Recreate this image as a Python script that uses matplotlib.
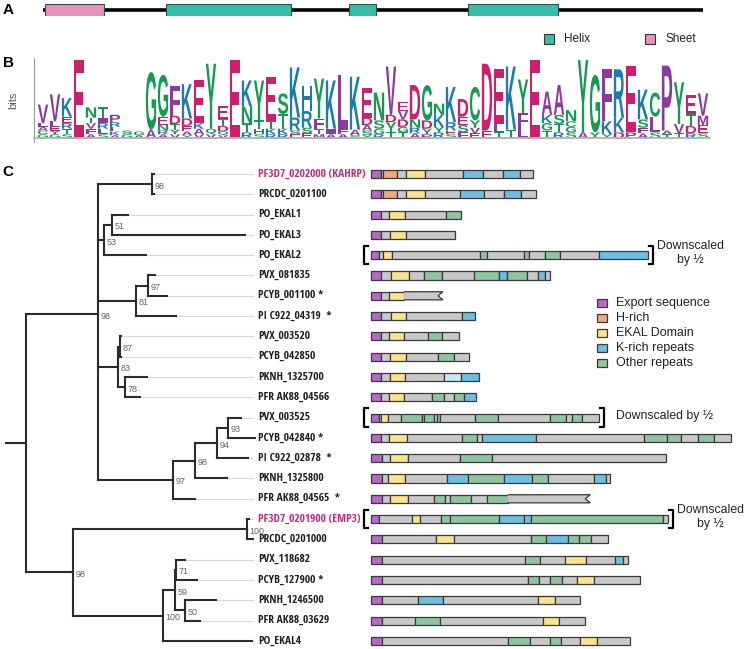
import numpy as np
import matplotlib
matplotlib.use("Agg")
import matplotlib.pyplot as plt
from matplotlib import font_manager
from matplotlib.patches import Rectangle, Polygon, PathPatch
from matplotlib.textpath import TextPath
from matplotlib.font_manager import FontProperties
from matplotlib.transforms import Affine2D

plt.rcParams["font.family"] = ["Liberation Sans", "DejaVu Sans"]

# ---------------- panel A: secondary structure (residue positions) ----------
seq_len = 56
sse_start = [1.2, 11.25, 26.5, 36.4]
sse_end = [6.1, 21.7, 28.75, 43.9]
sse_type = ["Sheet", "Helix", "Helix", "Helix"]

# ---------------- panel B: sequence logo (bottom -> top letters, bits) -------
logo_letters = [
    "GCALV", "GYELV", "STREK", "E", "AFVTN", "SLRIT", "AKLRP", "GS", "AG", "AG",
    "ARNEG", "VYTDF", "YAEDK", "VAKE", "VQY", "VQDTE", "E", "RTNK", "SHTY", "RKTE",
    "RKTS", "ESRK", "ESRH", "MTFY", "AIK", "AFL", "SAK", "YSADE", "RGSN", "TYDV",
    "TGDVE", "ARND", "PYDG", "RYKN", "SERK", "FSED", "EVYC", "ED", "TLE", "TK",
    "LFY", "E", "TGKA", "RTSA", "SGCN", "AY", "YG", "YKF", "DKR", "PE",
    "AFSK", "SLC", "TAP", "TVY", "RDTE", "SEMV",
]
logo_heights = [
    [0.2, 0.2, 0.2, 0.2, 1.0], [0.2, 0.2, 0.2, 0.3, 1.45], [0.2, 0.3, 0.3, 0.35, 1.0],
    [4.2], [0.2, 0.3, 0.3, 0.3, 0.55], [0.2, 0.3, 0.3, 0.3, 0.55],
    [0.15, 0.2, 0.25, 0.25, 0.4], [0.2, 0.2], [0.15, 0.2], [0.45, 3.1],
    [0.2, 0.2, 0.3, 0.45, 2.25], [0.2, 0.25, 0.3, 0.45, 1.6], [0.15, 0.2, 0.3, 0.4, 1.85],
    [0.2, 0.3, 0.3, 2.3], [0.2, 0.3, 3.5], [0.15, 0.2, 0.3, 0.4, 0.65], [4.2],
    [0.3, 0.5, 0.9, 1.4], [0.2, 0.3, 0.45, 2.15], [0.2, 0.3, 0.4, 2.4],
    [0.2, 0.3, 0.8, 1.1], [0.2, 0.2, 0.7, 2.7], [0.25, 0.3, 0.9, 1.35],
    [0.2, 0.3, 0.55, 2.15], [0.2, 0.3, 2.6], [0.2, 0.3, 2.9], [0.15, 0.3, 2.85],
    [0.15, 0.25, 0.3, 0.4, 1.6], [0.2, 0.3, 0.45, 1.5], [0.3, 0.55, 0.4, 2.6],
    [0.3, 0.3, 0.4, 0.45, 0.5], [0.25, 0.3, 0.45, 1.85], [0.2, 0.3, 0.45, 1.9],
    [0.3, 0.3, 0.65, 0.6], [0.2, 0.2, 0.45, 1.9], [0.3, 0.4, 0.45, 0.95],
    [0.25, 0.3, 0.4, 1.8], [0.4, 3.6], [0.3, 0.45, 2.95], [0.45, 3.4],
    [0.55, 0.8, 1.8], [4.2], [0.4, 0.4, 0.45, 1.25], [0.3, 0.45, 0.5, 1.6],
    [0.3, 0.3, 0.3, 0.6], [0.3, 3.9], [0.3, 3.1], [0.2, 0.7, 2.8], [0.3, 0.8, 2.6],
    [0.3, 3.6], [0.25, 0.3, 0.45, 1.6], [0.3, 0.85, 1.3], [0.2, 0.2, 3.5],
    [0.25, 0.5, 2.25], [0.25, 0.4, 0.65, 1.0], [0.25, 0.45, 0.5, 1.2],
]

# ---------------- panel C: tree ---------------------------------------------
leaf_names = [
    "PF3D7_0202000 (KAHRP)", "PRCDC_0201100", "PO_EKAL1", "PO_EKAL3", "PO_EKAL2",
    "PVX_081835", "PCYB_001100 *", "PI C922_04319  *", "PVX_003520", "PCYB_042850",
    "PKNH_1325700", "PFR AK88_04566", "PVX_003525", "PCYB_042840 *",
    "PI C922_02878  *", "PKNH_1325800", "PFR AK88_04565  *", "PF3D7_0201900 (EMP3)",
    "PRCDC_0201000", "PVX_118682", "PCYB_127900 *", "PKNH_1246500", "PFR AK88_03629",
    "PO_EKAL4",
]
highlight = [0, 17]
leaf_tip = [149, 149, 123, 240, 141, 150, 162, 171, 115.5, 115.5, 142, 135,
            236, 250, 243, 222, 190, 243.5, 248, 180, 192, 211, 195, 247]
# node: (depth, bootstrap, children)
tree = {
    "kahrp": (147, 98, [0, 1]),
    "n51": (107, 51, [2, 3]),
    "n53": (99, 53, ["n51", 4]),
    "n97a": (143, 97, [5, 6]),
    "n81": (131, 81, ["n97a", 7]),
    "n87": (115, 87, [8, 9]),
    "n78": (120, 78, [10, 11]),
    "n83": (113, 83, ["n87", "n78"]),
    "n93": (223, 93, [12, 13]),
    "n94": (212, 94, ["n93", 14]),
    "n98b": (190, 98, ["n94", 15]),
    "n97b": (168, 97, ["n98b", 16]),
    "n98a": (93, 98, ["kahrp", "n53", "n81", "n83", "n97b"]),
    "emp3": (242, 100, [17, 18]),
    "n71": (171, 71, [19, 20]),
    "n50": (180, 50, [21, 22]),
    "n59": (170, 59, ["n71", "n50"]),
    "n100": (158, 100, ["n59", 23]),
    "n98c": (68, 98, ["emp3", "n100"]),
    "root": (21, None, ["n98a", "n98c"]),
}

# ---------------- domain architecture ----------------------------------------
# P export, H H-rich, Y EKAL, B K-rich, L light K-rich, G other repeats, n none
dom_types = [
    "PnHnYnBnBn", "PnHnYnBnBn", "PnYnG", "PnYn", "PnYnGnGnGnB", "PnYnGnGBGnBn",
    "PnYn", "PnYnB", "PnYnGn", "PnYnGn", "PnYnLB", "PnYnGnGB",
    "PnYnGnGnGnGnGnGn", "PnYnGnBnGGnGn", "PnYnGn", "PnYnBGBGnBn", "PnYnGnGnGn",
    "PnYnGGBBGn", "PnYnGBGGn", "PnGnYnBn", "PnGnGnYn", "PnBnYn", "PnGnYn",
    "PnGnGnYn",
]
dom_ends = [
    [10, 12, 26, 35, 54, 92, 112, 132, 149, 162],
    [10, 12, 26, 35, 54, 89, 113, 133, 150, 165],
    [10, 18, 34, 75, 90],
    [10, 19, 35, 84],
    [7.7, 11.7, 21, 109, 116, 153, 158, 174, 189, 228, 277],
    [10, 20, 38, 53, 71, 103, 128, 136, 156, 167, 174, 179],
    [10, 18, 33, 72],
    [10, 20, 35, 91, 104],
    [10, 18, 33, 57, 71, 88],
    [10, 19, 35, 67, 83, 98],
    [10, 19, 34, 73, 90, 108],
    [10, 18, 33, 61, 73, 83, 93, 105],
    [7.7, 10, 17, 30, 51, 53, 63, 66, 69, 104, 127, 179, 195, 201, 211, 228],
    [10, 17.7, 36, 91, 106, 111, 165, 272.7, 296, 310, 326.7, 342.7, 360],
    [11, 18.7, 36.7, 89.3, 121, 294.7],
    [11, 16.7, 34.3, 76, 96.7, 132.7, 161, 176.7, 223.3, 235, 238.7],
    [11, 19.3, 36.7, 62.7, 74.3, 78.7, 100, 116, 136.7, 219.3],
    [7.7, 41, 48.7, 70, 78.7, 127.7, 153.3, 160, 292, 296.7],
    [11, 65.3, 82.7, 160, 175, 196.7, 208.3, 220, 236.7],
    [11, 154.3, 169.3, 194.3, 215, 243.7, 251.7, 256.7],
    [11, 156.7, 167.7, 179.3, 191, 206, 222.7, 269.3],
    [11, 47, 71.7, 167, 183.7, 209.3],
    [11, 43.7, 68.7, 171.7, 188.3, 213.7],
    [11, 137, 158.7, 178.7, 190, 209.3, 226, 258.7],
]
truncated = [6, 16]
downscaled = {4: "Downscaled\nby \u00bd", 12: "Downscaled by \u00bd", 17: "Downscaled\nby \u00bd"}
legend_labels = ["Export sequence", "H-rich", "EKAL Domain", "K-rich repeats", "Other repeats"]
legend_codes = ["P", "H", "Y", "B", "G"]

dom_colors = {"P": "#b36cc3", "H": "#f4a77a", "Y": "#f9e38c", "B": "#6cbfe0",
              "L": "#c6e6f3", "G": "#8ec4a0", "n": "#c8c8c8"}
sse_colors = {"Helix": "#35bfa9", "Sheet": "#e592bf"}
aa_colors = {}
for a in "DE":
    aa_colors[a] = "#cf1f6c"
for a in "KRH":
    aa_colors[a] = "#1c7da8"
for a in "GSTYCNQ":
    aa_colors[a] = "#159a52"
for a in "AVLIPFMW":
    aa_colors[a] = "#8b3a9f"

# leaf labels: narrowest installed bold sans, sized so the longest label
# spans ~110 px as in the original
LABEL_W = 110
ok_names = ("Liberation Sans", "Liberation Sans Narrow", "DejaVu Sans", "Roboto",
            "Roboto Condensed", "Open Sans", "Open Sans Condensed", "Lato", "Inter",
            "Noto Sans")
label_fp, label_size = None, 0
for f in font_manager.fontManager.ttflist:
    if f.name in ok_names and f.weight in ("bold", 700) and f.style == "normal":
        cand = FontProperties(fname=f.fname)
        try:
            w1 = TextPath((0, 0), leaf_names[0], size=1, prop=cand).get_extents().width
        except Exception:
            continue
        size = LABEL_W / (w1 * 100 / 72)
        if size > label_size:
            label_fp, label_size = cand, size
if label_fp is None:
    label_fp = FontProperties(family="Liberation Sans", weight="bold")
    label_size = 6.7
label_fp.set_size(min(8.2, label_size))

W, H = 745, 649
fig = plt.figure(figsize=(W / 100, H / 100), dpi=100)


def px_axes(x0, y0, x1, y1):
    ax = fig.add_axes([x0 / W, 1 - y1 / H, (x1 - x0) / W, (y1 - y0) / H])
    return ax


canvas = px_axes(0, 0, W, H)
canvas.set_xlim(0, W)
canvas.set_ylim(H, 0)
canvas.axis("off")

# panel letters
for lab, y in zip("ABC", [10, 63, 172]):
    canvas.text(8, y, lab, fontsize=11, weight="bold", ha="center", va="center")

# ---- panel A
COL = 12.0
logo_xlim = (0.5 - 3 / COL, seq_len + 0.5 + 1 / COL)
axA = px_axes(34, 4, 710, 16)
axA.set_xlim(*logo_xlim)
axA.set_ylim(0, 1)
axA.axis("off")
axA.plot([1, seq_len], [0.5, 0.5], color="black", lw=2.6, solid_capstyle="butt", zorder=1)
for s, e, t in zip(sse_start, sse_end, sse_type):
    axA.add_patch(Rectangle((s, 0), e - s, 1, fc=sse_colors[t], ec="#2d4d48", lw=0.8, zorder=2))

for x, t in zip([544, 645], ["Helix", "Sheet"]):
    canvas.add_patch(Rectangle((x, 34), 10, 10, fc=sse_colors[t], ec="#333333", lw=0.8))
    canvas.text(x + 20, 39.5, t, fontsize=8.5, va="center", ha="left", color="#222222")

# ---- panel B
axL = px_axes(34, 58, 710, 141.7)
axL.set_xlim(*logo_xlim)
axL.set_ylim(-0.2, 4.31)
for s in ["top", "right"]:
    axL.spines[s].set_visible(False)
axL.spines["left"].set_color("#999999")
axL.spines["left"].set_linewidth(0.8)
axL.spines["bottom"].set_position(("data", 0))
axL.spines["bottom"].set_color("#b5b5b5")
axL.spines["bottom"].set_linewidth(1.4)
axL.set_xticks([])
axL.set_yticks([])
axL.patch.set_alpha(0)
axL.text(-21 / 676, 0.5, "bits", transform=axL.transAxes, rotation=90,
         ha="center", va="center", fontsize=8, color="#555555")

fp = FontProperties(family="Liberation Sans", weight="bold")
for i, (letters, hs) in enumerate(zip(logo_letters, logo_heights)):
    x = i + 1 - 0.43
    y = 0
    for ch, h in zip(letters, hs):
        tp = TextPath((0, 0), ch, size=1, prop=fp)
        bb = tp.get_extents()
        tr = Affine2D().translate(-bb.x0, -bb.y0).scale(0.86 / bb.width, h / bb.height).translate(x, y)
        axL.add_patch(PathPatch(tr.transform_path(tp), fc=aa_colors[ch], ec="none"))
        y += h

# ---- panel C: tree
Y0, ROW = 174, 20.3
ylim = ((649 - Y0) / ROW, (150 - Y0) / ROW)
axT = px_axes(5, 150, 262, 649)
axT.set_xlim(0, 257)
axT.set_ylim(*ylim)
axT.axis("off")


def ypos(n):
    if isinstance(n, int):
        return n
    return np.mean([ypos(c) for c in tree[n][2]])


def depth(n):
    return leaf_tip[n] if isinstance(n, int) else tree[n][0]


lc = dict(color="#2b2b2b", lw=1.5, solid_capstyle="projecting")
for name, (d, sup, kids) in tree.items():
    ys = [ypos(k) for k in kids]
    axT.plot([d, d], [min(ys), max(ys)], **lc)
    for k, yk in zip(kids, ys):
        axT.plot([d, depth(k)], [yk, yk], **lc)
    if sup is not None:
        axT.text(d + 2.5, ypos(name) + 0.1, str(sup), fontsize=6.5, color="#666666",
                 ha="left", va="center")
axT.plot([0, tree["root"][0]], [ypos("root")] * 2, **lc)

GUIDE_END = 248
for i, (nm, tip) in enumerate(zip(leaf_names, leaf_tip)):
    if tip < GUIDE_END:
        axT.plot([tip, GUIDE_END], [i, i], color="#d8d8d8", lw=0.8, zorder=0)
    col = "#c42a84" if i in highlight else "#1e1e1e"
    axT.text(GUIDE_END + 5, i, nm, fontproperties=label_fp, color=col,
             ha="left", va="center", clip_on=False)

# ---- domains
axD = px_axes(371, 150, 745, 649)
axD.set_xlim(0, 374)
axD.set_ylim(*ylim)
axD.axis("off")
BH = 0.4
EDGE = "#3a3a3a"
for i, (types, ends) in enumerate(zip(dom_types, dom_ends)):
    starts = [0] + ends[:-1]
    for j, (s, e, t) in enumerate(zip(starts, ends, types)):
        if i in truncated and j == len(ends) - 1:
            pts = [(s, i - BH / 2), (e, i - BH / 2), (e - 5, i), (e, i + BH / 2), (s, i + BH / 2)]
            axD.add_patch(Polygon(pts, closed=False, fc=dom_colors[t], ec=EDGE, lw=0.9, clip_on=False))
        else:
            axD.add_patch(Rectangle((s, i - BH / 2), e - s, BH, fc=dom_colors[t], ec=EDGE,
                                    lw=0.9, clip_on=False))
    if i in downscaled:
        end = ends[-1]
        bh = 0.45
        axD.plot([-3, -7.5, -7.5, -3], [i - bh, i - bh, i + bh, i + bh], color="black",
                 lw=1.6, clip_on=False)
        axD.plot([end + 1, end + 5, end + 5, end + 1], [i - bh, i - bh, i + bh, i + bh],
                 color="black", lw=1.6, clip_on=False)
        txt = downscaled[i]
        tx = end + 9 if "\n" in txt else end + 17
        axD.text(tx, i - 0.1, txt, fontsize=8.8, ha="left", va="center",
                 multialignment="center", color="#222222", linespacing=1.15, clip_on=False)

for k, (lab, code) in enumerate(zip(legend_labels, legend_codes)):
    y = 303 + 15 * k
    canvas.add_patch(Rectangle((597, y - 4), 10, 8, fc=dom_colors[code], ec=EDGE, lw=0.9))
    canvas.text(616, y, lab, fontsize=9, va="center", ha="left", color="#222222")

fig.savefig("out.png", dpi=100)
